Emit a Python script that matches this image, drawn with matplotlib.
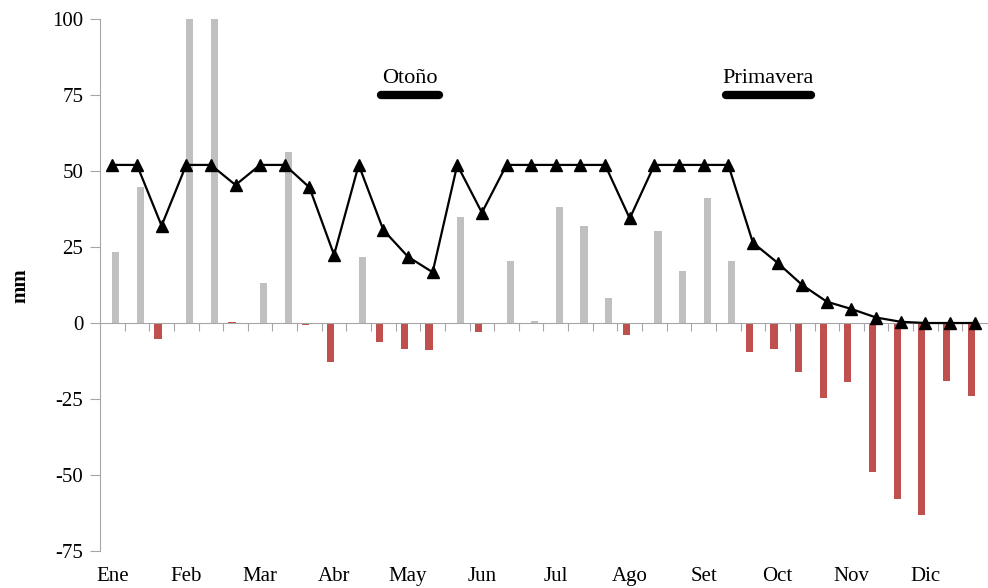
import numpy as np
import matplotlib
matplotlib.use("Agg")
import matplotlib.pyplot as plt

plt.rcParams['font.family'] = ['Liberation Serif', 'DejaVu Serif']
plt.rcParams['axes.unicode_minus'] = False

# Decadal water balance (3 periods per month)
months = ["Ene", "Feb", "Mar", "Abr", "May", "Jun",
          "Jul", "Ago", "Set", "Oct", "Nov", "Dic"]

excess = [23.3, 44.8, 0, 100, 100, 0, 13.0, 56.4, 0, 0, 21.7, 0,
          0, 0, 34.9, 0, 20.4, 0.6, 38.3, 31.9, 8.2, 0, 30.4, 17.2,
          41.1, 20.4, 0, 0, 0, 0, 0, 0, 0, 0, 0, 0]

deficit = [0, 0, -5.3, 0, 0, 0.4, 0, 0, -0.6, -12.8, 0, -6.1,
           -8.7, -9.0, 0, -2.8, 0, 0, 0, 0, 0, -3.8, 0, 0,
           0, 0, -9.6, -8.7, -16.0, -24.8, -19.5, -49.0, -58.0, -63.1, -19.2, -24.0]

storage = [52, 52, 32, 52, 52, 45.4, 52, 52, 44.6, 22.4, 52, 30.6,
           21.8, 16.7, 52, 36.3, 52, 52, 52, 52, 52, 34.4, 52, 52,
           52, 52, 26.4, 19.8, 12.5, 7.0, 4.6, 1.8, 0.4, 0, 0, 0]

seasons = ["Otoño", "Primavera"]
season_span = [(10.9, 13.25), (24.9, 28.35)]
season_level = 75

x = np.arange(len(storage))
axis_gray = "#a6a6a6"

fig = plt.figure(figsize=(9.88, 5.88), dpi=100)
ax = fig.add_axes([0.1012, 0.0629, 0.8978, 0.9048])

w = 0.29
ax.bar(x - w / 2, deficit, width=w, color="#c0504d", zorder=2)
ax.bar(x + w / 2, excess, width=w, color="#c0c0c0", zorder=2)
ax.plot(x, storage, color="black", lw=1.6, marker="^", ms=9,
        markerfacecolor="black", zorder=4, clip_on=False)

# season markers
for name, (a, b) in zip(seasons, season_span):
    ax.plot([a, b], [season_level, season_level], color="black", lw=6,
            solid_capstyle="round", zorder=5)
    ax.text((a + b) / 2, season_level + 5.5, name, ha="center", va="center",
            fontsize=16)

ax.set_xlim(-0.5, len(storage) - 0.5)
ax.set_ylim(-75, 100)
ax.set_yticks(np.arange(-75, 101, 25))
ax.tick_params(axis="y", direction="out", length=7, color=axis_gray,
               labelsize=15, pad=5)

for side in ("top", "right"):
    ax.spines[side].set_visible(False)
ax.spines["left"].set_color(axis_gray)
ax.spines["bottom"].set_position(("data", 0))
ax.spines["bottom"].set_color(axis_gray)
ax.spines["bottom"].set_zorder(3)

ax.set_xticks(np.arange(0.5, len(storage) - 0.5, 1))
ax.set_xticklabels([])
ax.tick_params(axis="x", direction="out", length=6, color=axis_gray)

for i, m in enumerate(months):
    ax.text(3 * i, -0.047, m, transform=ax.get_xaxis_transform(),
            ha="center", va="center", fontsize=15)

fig.text(0.021, 0.515, "mm", rotation=90, ha="center", va="center",
         fontsize=15, fontweight="bold")

fig.savefig("out.png", dpi=100)
